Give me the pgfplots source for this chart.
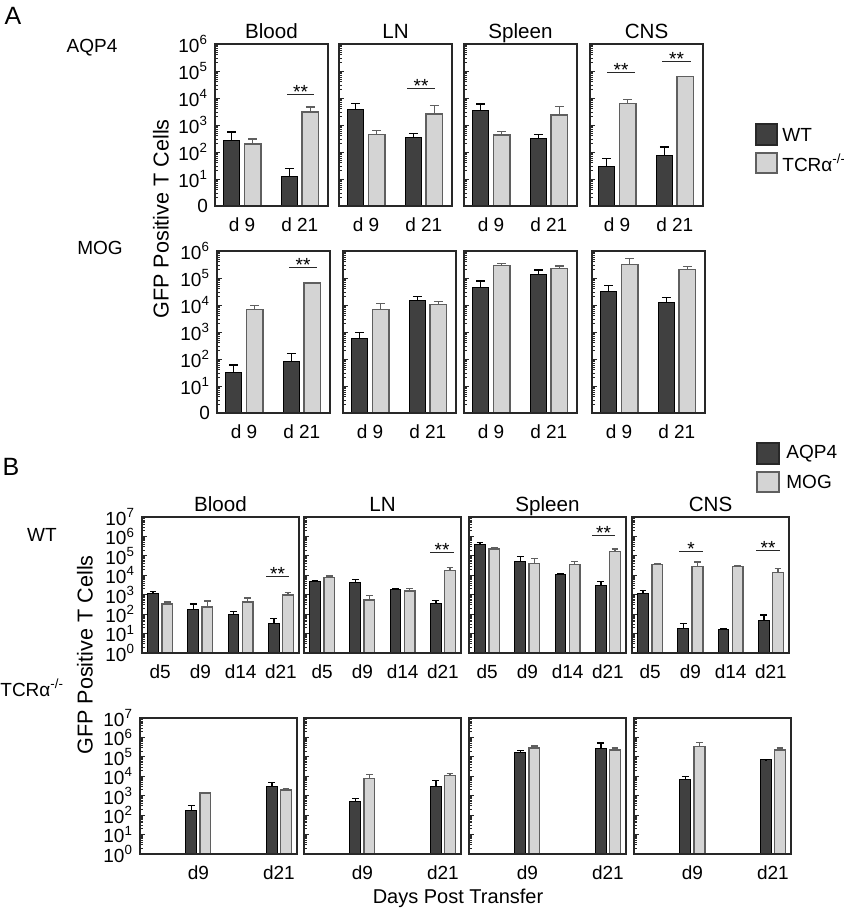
\documentclass[border=0pt]{standalone}
\usepackage{fontspec}
\setmainfont{Liberation Sans}
\usepackage{pgfplots}
\pgfplotsset{compat=1.18}

\definecolor{darkbar}{RGB}{64,64,64}
\definecolor{lightbar}{RGB}{212,212,212}
\definecolor{lightedge}{RGB}{95,95,95}
\definecolor{frame}{RGB}{40,40,40}

\newcommand{\nine}{\fontsize{9.5}{11}\selectfont}

\pgfplotsset{
  myPanel/.style={/pgfplots/.cd, scale only axis, ymin=1, clip=false, axis on top,
    axis line style={draw=frame, line width=1pt},
    tick align=inside, ytick pos=left, xtick pos=bottom,
    major x tick style={draw=none},
    major tick length=2.4pt, minor tick length=1.4pt,
    tick style={draw=frame, line width=0.4pt},
    tick label style={font=\nine},
    title style={font=\fontsize{10.3}{12}\selectfont, anchor=base, yshift=-3.5pt},
    yticklabels={}},
  myA/.style={/pgfplots/.cd, myPanel, width=56.5pt, height=81pt, ymax=1e6, xmin=-0.47, xmax=1.49,
    xtick={0,1}, xticklabels={d 9,d 21},
    ytick={1,10,100,1000,10000,100000,1000000}},
  myB/.style={/pgfplots/.cd, myPanel, width=78.5pt, height=68pt, ymax=1e7, xmin=-0.45, xmax=3.45,
    xtick={0,1,2,3}, xticklabels={d5,d9,d14,d21},
    ytick={1,10,100,1000,10000,100000,1000000,10000000}},
  labA/.style={/pgfplots/yticklabels={0,10\textsuperscript{1},10\textsuperscript{2},10\textsuperscript{3},10\textsuperscript{4},10\textsuperscript{5},10\textsuperscript{6}}},
  labB/.style={/pgfplots/yticklabels={10\textsuperscript{0},10\textsuperscript{1},10\textsuperscript{2},10\textsuperscript{3},10\textsuperscript{4},10\textsuperscript{5},10\textsuperscript{6},10\textsuperscript{7}}},
  barDk/.style={/tikz/fill=darkbar, /tikz/draw=black, /tikz/line width=0.5pt,
    /pgfplots/error bars/y dir=plus, /pgfplots/error bars/y explicit,
    /pgfplots/error bars/error bar style={black, line width=0.7pt},
    /pgfplots/error bars/error mark options={rotate=90, black, line width=0.7pt, mark size=#1}},
  barLt/.style={/tikz/fill=lightbar, /tikz/draw=lightedge, /tikz/line width=0.7pt,
    /pgfplots/error bars/y dir=plus, /pgfplots/error bars/y explicit,
    /pgfplots/error bars/error bar style={lightedge, line width=0.7pt},
    /pgfplots/error bars/error mark options={rotate=90, lightedge, line width=0.7pt, mark size=#1}},
}

\begin{document}
\begin{tikzpicture}
\useasboundingbox (0,0) rectangle (421.5pt,454.5pt);

% ---------------- A, AQP4 ----------------
\begin{axis}[ymode=log, myA, labA, title={Blood}, at={(107.5pt,432.5pt)}, anchor=north west, ybar, bar width=0.286]
\addplot[bar shift=-0.182, barDk=2.2pt] coordinates {(0,277) +- (0,273) (1,12) +- (0,13)};
\addplot[bar shift=0.182, barLt=2.2pt] coordinates {(0,198) +- (0,104) (1,3000) +- (0,1650)};
\end{axis}
\begin{axis}[ymode=log, myA, title={LN}, at={(169.5pt,432.5pt)}, anchor=north west, ybar, bar width=0.286]
\addplot[bar shift=-0.182, barDk=2.2pt] coordinates {(0,3600) +- (0,2600) (1,335) +- (0,155)};
\addplot[bar shift=0.182, barLt=2.2pt] coordinates {(0,450) +- (0,185) (1,2550) +- (0,2650)};
\end{axis}
\begin{axis}[ymode=log, myA, title={Spleen}, at={(232pt,432.5pt)}, anchor=north west, ybar, bar width=0.286]
\addplot[bar shift=-0.182, barDk=2.2pt] coordinates {(0,3300) +- (0,2600) (1,320) +- (0,115)};
\addplot[bar shift=0.182, barLt=2.2pt] coordinates {(0,425) +- (0,160) (1,2350) +- (0,2450)};
\end{axis}
\begin{axis}[ymode=log, myA, title={CNS}, at={(295pt,432.5pt)}, anchor=north west, ybar, bar width=0.286]
\addplot[bar shift=-0.182, barDk=2.2pt] coordinates {(0,30) +- (0,28) (1,76) +- (0,76)};
\addplot[bar shift=0.182, barLt=2.2pt] coordinates {(0,6400) +- (0,2600) (1,61000) +- (0,3000)};
\end{axis}

% ---------------- A, MOG ----------------
\begin{axis}[ymode=log, myA, labA, at={(108.5pt,329pt)}, anchor=north west, ybar, bar width=0.286]
\addplot[bar shift=-0.182, barDk=2.2pt] coordinates {(0,31) +- (0,29) (1,80) +- (0,80)};
\addplot[bar shift=0.182, barLt=2.2pt] coordinates {(0,6900) +- (0,2900) (1,65000) +- (0,4000)};
\end{axis}
\begin{axis}[ymode=log, myA, at={(171.5pt,329pt)}, anchor=north west, ybar, bar width=0.286]
\addplot[bar shift=-0.182, barDk=2.2pt] coordinates {(0,575) +- (0,365) (1,14400) +- (0,6600)};
\addplot[bar shift=0.182, barLt=2.2pt] coordinates {(0,6800) +- (0,4600) (1,10200) +- (0,3000)};
\end{axis}
\begin{axis}[ymode=log, myA, at={(232pt,329pt)}, anchor=north west, ybar, bar width=0.286]
\addplot[bar shift=-0.182, barDk=2.2pt] coordinates {(0,44000) +- (0,33000) (1,138000) +- (0,62000)};
\addplot[bar shift=0.182, barLt=2.2pt] coordinates {(0,290000) +- (0,55000) (1,225000) +- (0,55000)};
\end{axis}
\begin{axis}[ymode=log, myA, at={(296pt,329pt)}, anchor=north west, ybar, bar width=0.286]
\addplot[bar shift=-0.182, barDk=2.2pt] coordinates {(0,31000) +- (0,21000) (1,12700) +- (0,6300)};
\addplot[bar shift=0.182, barLt=2.2pt] coordinates {(0,324000) +- (0,206000) (1,205000) +- (0,65000)};
\end{axis}

% ---------------- B, WT ----------------
\begin{axis}[ymode=log, myB, labB, title={Blood}, at={(71pt,196pt)}, anchor=north west, ybar, bar width=0.265]
\addplot[bar shift=-0.176, barDk=1.7pt] coordinates {(0,1100) +- (0,340) (1,180) +- (0,145) (2,92) +- (0,44) (3,33) +- (0,27)};
\addplot[bar shift=0.176, barLt=1.7pt] coordinates {(0,325) +- (0,90) (1,230) +- (0,235) (2,415) +- (0,275) (3,980) +- (0,360)};
\end{axis}
\begin{axis}[ymode=log, myB, title={LN}, at={(152pt,196pt)}, anchor=north west, ybar, bar width=0.265]
\addplot[bar shift=-0.176, barDk=1.7pt] coordinates {(0,4700) +- (0,800) (1,4200) +- (0,1700) (2,1780) +- (0,370) (3,335) +- (0,165)};
\addplot[bar shift=0.176, barLt=1.7pt] coordinates {(0,7500) +- (0,1700) (1,540) +- (0,400) (2,1560) +- (0,590) (3,18000) +- (0,8000)};
\end{axis}
\begin{axis}[ymode=log, myB, title={Spleen}, at={(234.5pt,196pt)}, anchor=north west, ybar, bar width=0.265]
\addplot[bar shift=-0.176, barDk=1.7pt] coordinates {(0,405000) +- (0,85000) (1,52000) +- (0,38000) (2,11200) +- (0,800) (3,3100) +- (0,1800)};
\addplot[bar shift=0.176, barLt=1.7pt] coordinates {(0,224000) +- (0,38000) (1,41000) +- (0,33000) (2,36500) +- (0,15500) (3,162000) +- (0,68000)};
\end{axis}
\begin{axis}[ymode=log, myB, title={CNS}, at={(316pt,196pt)}, anchor=north west, ybar, bar width=0.265]
\addplot[bar shift=-0.176, barDk=1.7pt] coordinates {(0,1200) +- (0,420) (1,18) +- (0,15) (2,17) +- (0,0.5) (3,47) +- (0,42)};
\addplot[bar shift=0.176, barLt=1.7pt] coordinates {(0,36500) +- (0,5000) (1,29000) +- (0,19000) (2,27500) +- (0,3500) (3,14200) +- (0,7800)};
\end{axis}

% ---------------- B, TCRa-/- ----------------
\begin{axis}[ymode=log, myB, labB, xtick={1,3}, xticklabels={d9,d21}, at={(70pt,95.5pt)}, anchor=north west, ybar, bar width=0.265]
\addplot[bar shift=-0.176, barDk=1.7pt] coordinates {(1,183) +- (0,125) (3,2900) +- (0,1980)};
\addplot[bar shift=0.176, barLt=1.7pt] coordinates {(1,1380) +- (0,100) (3,1960) +- (0,440)};
\end{axis}
\begin{axis}[ymode=log, myB, xtick={1,3}, xticklabels={d9,d21}, at={(152pt,95.5pt)}, anchor=north west, ybar, bar width=0.265]
\addplot[bar shift=-0.176, barDk=1.7pt] coordinates {(1,490) +- (0,210) (3,2900) +- (0,3200)};
\addplot[bar shift=0.176, barLt=1.7pt] coordinates {(1,7500) +- (0,5000) (3,11100) +- (0,2900)};
\end{axis}
\begin{axis}[ymode=log, myB, xtick={1,3}, xticklabels={d9,d21}, at={(234.5pt,95.5pt)}, anchor=north west, ybar, bar width=0.265]
\addplot[bar shift=-0.176, barDk=1.7pt] coordinates {(1,170000) +- (0,45000) (3,270000) +- (0,245000)};
\addplot[bar shift=0.176, barLt=1.7pt] coordinates {(1,285000) +- (0,75000) (3,225000) +- (0,60000)};
\end{axis}
\begin{axis}[ymode=log, myB, xtick={1,3}, xticklabels={d9,d21}, at={(317pt,95.5pt)}, anchor=north west, ybar, bar width=0.265]
\addplot[bar shift=-0.176, barDk=1.7pt] coordinates {(1,7200) +- (0,2600) (3,69000) +- (0,2000)};
\addplot[bar shift=0.176, barLt=1.7pt] coordinates {(1,345000) +- (0,205000) (3,225000) +- (0,60000)};
\end{axis}

% ---------------- labels, legends, significance marks (pixel grid) ----------------
\begin{scope}[x=0.5pt, y=-0.5pt, yshift=454.5pt, font=\nine]
\node at (13,16) {\fontsize{12.5}{14}\selectfont A};
\node at (11,467) {\fontsize{12.5}{14}\selectfont B};
\node at (92,48) {AQP4};
\node at (100,248) {MOG};
\node at (42,535) {WT};
\node[anchor=west, inner sep=0pt] at (0,688) {TCRα\textsuperscript{-/-}};
\node[rotate=90, font=\fontsize{10.8}{12}\selectfont] at (161,219) {GFP Positive T Cells};
\node[rotate=90, font=\fontsize{10.8}{12}\selectfont] at (85,655) {GFP Positive T Cells};
\node[font=\fontsize{10}{12}\selectfont] at (458,898) {Days Post Transfer};

% legend A
\draw[fill=darkbar, draw=frame, line width=1pt] (756,124) rectangle (777,145);
\draw[fill=lightbar, draw=lightedge, line width=1pt] (756,153) rectangle (777,173);
\node[anchor=west, inner sep=0pt] at (782,135) {WT};
\node[anchor=west, inner sep=0pt] at (782,163) {TCRα\textsuperscript{-/-}};
% legend B
\draw[fill=darkbar, draw=frame, line width=1pt] (757,443) rectangle (779,464);
\draw[fill=lightbar, draw=lightedge, line width=1pt] (757,472) rectangle (779,492);
\node[anchor=west, inner sep=0pt] at (786,454) {AQP4};
\node[anchor=west, inner sep=0pt] at (786,482) {MOG};

% significance
\foreach \xa/\xb/\yy/\st in {287/314/95/**, 407/435/89/**, 607/635/73/**, 662/691/62/**,
    289/317/268/**, 266/289/577/**, 430/454/553/**, 592/615/536/**, 679/703/552/*, 756/780/551/**} {
  \draw[frame, line width=0.5pt] (\xa,\yy) -- (\xb,\yy);
  \node[anchor=base, inner sep=0pt] at ({(\xa+\xb)/2},\yy+4) {\st};
}
\end{scope}
\end{tikzpicture}
\end{document}
